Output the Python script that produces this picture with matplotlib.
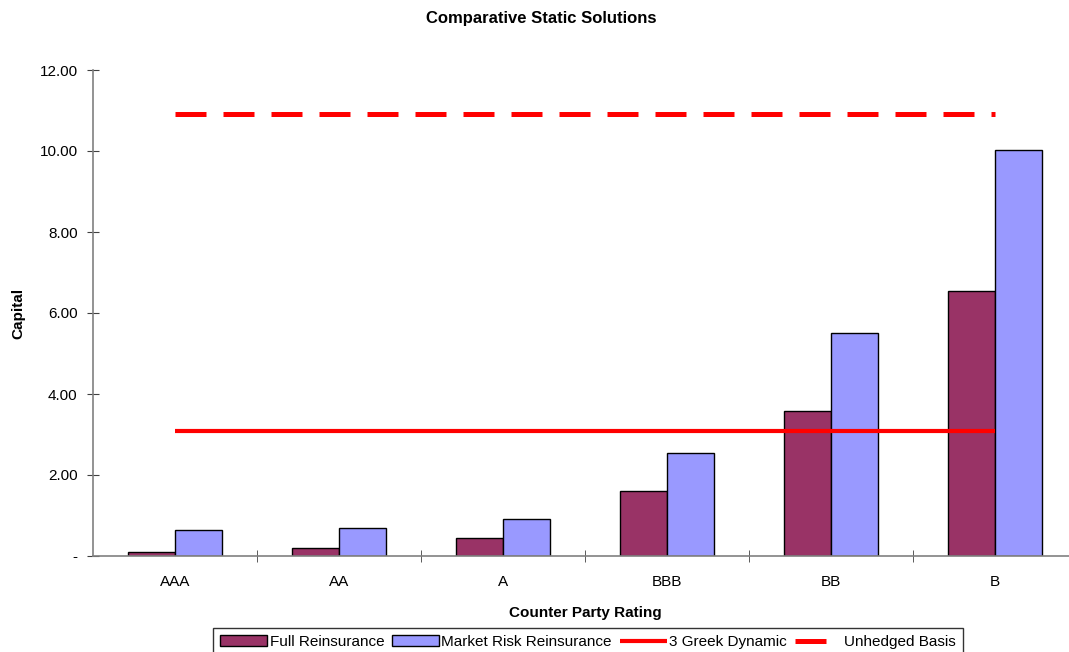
import matplotlib.pyplot as plt
import numpy as np

plt.rcParams['font.family'] = ['Liberation Sans', 'DejaVu Sans']

# Data
ratings = ['AAA', 'AA', 'A', 'BBB', 'BB', 'B']
full_reins = [0.10, 0.20, 0.44, 1.60, 3.58, 6.54]
market_reins = [0.64, 0.69, 0.91, 2.54, 5.50, 10.02]
greek_dynamic = [3.09] * 6
unhedged_basis = [10.91] * 6
y_ticks = [0, 2, 4, 6, 8, 10, 12]
y_ticklabels = ['-', '2.00', '4.00', '6.00', '8.00', '10.00', '12.00']

W, H = 1069, 652
fig = plt.figure(figsize=(W / 100, H / 100), dpi=100)
ax = fig.add_axes([93 / W, (H - 556) / H, (1077 - 93) / W, (556 - 70) / H])

x = np.arange(len(ratings))
bw = 0.287
b1 = ax.bar(x - bw / 2, full_reins, bw, color='#993366', edgecolor='black',
            linewidth=1.0, label='Full Reinsurance', zorder=2)
b2 = ax.bar(x + bw / 2, market_reins, bw, color='#9999FF', edgecolor='black',
            linewidth=1.0, label='Market Risk Reinsurance', zorder=2)
l1, = ax.plot(x, greek_dynamic, color='#FF0000', lw=3.0, solid_capstyle='butt',
              label='3 Greek Dynamic', zorder=3)
l2, = ax.plot(x, unhedged_basis, color='#FF0000', lw=3.6, dashes=(6.2, 3.4),
              dash_capstyle='butt', label='Unhedged Basis', zorder=3)

ax.set_xlim(-0.5, 5.5)
ax.set_ylim(0, 12)
ax.set_yticks(y_ticks)
ax.set_yticklabels(y_ticklabels, fontsize=11)
ax.set_xticks(x)
ax.set_xticklabels(ratings, fontsize=11)
ax.set_xticks(np.arange(0.5, 5.5, 1), minor=True)
ax.tick_params(axis='x', which='major', length=0, pad=14)
ax.tick_params(axis='x', which='minor', length=8, direction='inout', color='#404040')
ax.tick_params(axis='y', length=8, direction='inout', color='#404040', pad=7)

for s in ['top', 'right']:
    ax.spines[s].set_visible(False)
for s in ['left', 'bottom']:
    ax.spines[s].set_color('#808080')
    ax.spines[s].set_linewidth(1.2)

ax.set_xlabel('Counter Party Rating', fontsize=11, fontweight='bold', labelpad=12)
fig.text(18 / W, 1 - 313 / H, 'Capital', fontsize=11, fontweight='bold',
         rotation=90, ha='center', va='center')
fig.text(541 / W, 1 - 18 / H, 'Comparative Static Solutions', fontsize=12,
         fontweight='bold', ha='center', va='center')

leg = fig.legend([b1, b2, l1, l2],
                 ['Full Reinsurance', 'Market Risk Reinsurance', '3 Greek Dynamic', 'Unhedged Basis'],
                 loc='upper left', bbox_to_anchor=(213 / W, 1 - 628 / H), ncol=4,
                 fontsize=11, frameon=True, fancybox=False, edgecolor='black',
                 borderpad=0.45, handlelength=3.1, handletextpad=0.15,
                 columnspacing=0.5, borderaxespad=0)
leg.get_frame().set_linewidth(1.0)

fig.savefig('out.png', dpi=100)
